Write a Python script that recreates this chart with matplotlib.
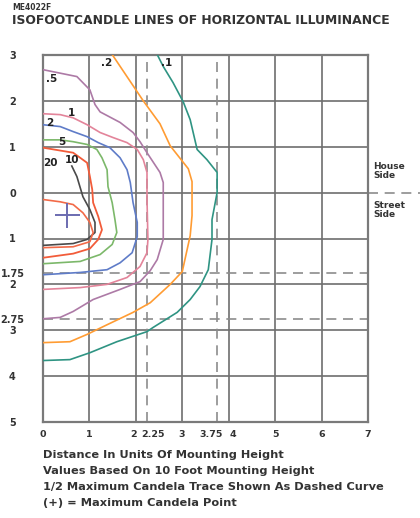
import matplotlib.pyplot as plt
import matplotlib.transforms as mtransforms

"""
Isofootcandle chart - values read off the reference picture
x = distance along the street, y = distance across (house side +, street side -)
units: mounting heights
"""
fc_01_x = [2.46, 2.59, 2.80, 3.02, 3.17, 3.32, 3.53, 3.75, 3.75, 3.64, 3.64, 3.56, 3.38, 3.17, 2.89, 2.37, 2.24, 1.59, 1.01, 0.58, 0.0]
fc_01_y = [3.01, 2.75, 2.40, 1.98, 1.59, 0.94, 0.72, 0.44, 0.0, -0.59, -1.02, -1.68, -2.05, -2.33, -2.61, -2.94, -3.03, -3.25, -3.49, -3.64, -3.66]

fc_02_x = [1.49, 2.16, 2.52, 2.74, 3.13, 3.21, 3.21, 3.17, 3.00, 2.74, 2.31, 1.94, 1.38, 0.95, 0.58, 0.0]
fc_02_y = [3.01, 2.00, 1.50, 1.02, 0.52, 0.24, -0.50, -0.94, -1.72, -2.00, -2.40, -2.61, -2.88, -3.09, -3.25, -3.27]

fc_05_x = [0.0, 0.73, 1.01, 1.12, 1.23, 1.66, 1.94, 2.09, 2.24, 2.52, 2.59, 2.59, 2.46, 2.31, 2.09, 1.66, 1.08, 0.65, 0.37, 0.0]
fc_05_y = [2.68, 2.53, 2.24, 1.92, 1.76, 1.53, 1.31, 1.11, 0.87, 0.44, 0.22, -1.02, -1.46, -1.70, -1.94, -2.11, -2.33, -2.59, -2.72, -2.75]

fc_1_x = [0.0, 0.37, 0.65, 0.95, 1.23, 1.51, 1.81, 2.03, 2.16, 2.24, 2.24, 2.26, 2.24, 2.09, 1.81, 1.38, 0.80, 0.0]
fc_1_y = [1.72, 1.70, 1.63, 1.48, 1.31, 1.20, 1.09, 0.94, 0.72, 0.44, -0.15, -1.02, -1.31, -1.61, -1.85, -2.00, -2.07, -2.11]

fc_2_x = [0.0, 0.37, 0.65, 0.95, 1.19, 1.44, 1.66, 1.81, 1.88, 1.94, 2.03, 2.03, 1.92, 1.66, 1.38, 0.80, 0.0]
fc_2_y = [1.48, 1.44, 1.33, 1.22, 1.09, 0.98, 0.76, 0.50, 0.22, -0.22, -0.65, -0.96, -1.31, -1.53, -1.68, -1.74, -1.79]

fc_5_x = [0.0, 0.37, 0.65, 0.95, 1.16, 1.27, 1.38, 1.40, 1.49, 1.55, 1.59, 1.49, 1.23, 0.80, 0.0]
fc_5_y = [1.15, 1.15, 1.11, 1.05, 0.94, 0.76, 0.50, 0.13, -0.22, -0.59, -0.87, -1.13, -1.35, -1.50, -1.55]

fc_10_x = [0.0, 0.65, 0.95, 1.01, 1.06, 1.08, 1.19, 1.27, 1.19, 1.01, 0.65, 0.0]
fc_10_y = [0.98, 0.87, 0.65, 0.35, 0.07, -0.22, -0.52, -0.81, -1.02, -1.22, -1.33, -1.42]

fc_20_x = [0.62, 0.73, 0.86, 1.01, 1.12, 1.12, 0.95, 0.65, 0.0]
fc_20_y = [0.58, 0.35, -0.09, -0.37, -0.65, -0.87, -1.02, -1.11, -1.15]

# innermost trace round the max candela point (no label on the picture)
fc_max_x = [0.0, 0.37, 0.65, 0.86, 1.01, 1.08, 1.01, 0.65, 0.0]
fc_max_y = [-0.15, -0.20, -0.26, -0.44, -0.65, -0.87, -1.07, -1.18, -1.20]

max_point = (0.52, -0.48)

curve_labels = ['.1', '.2', '.5', '1', '2', '5', '10', '20']
label_x = [2.67, 1.38, 0.19, 0.62, 0.15, 0.41, 0.62, 0.15]
label_y = [2.83, 2.83, 2.48, 1.74, 1.52, 1.11, 0.72, 0.65]

x_ticks = [0, 1, 2, 2.25, 3, 3.75, 4, 5, 6, 7]
x_tick_labels = ['0', '1', '2', '2.25', '3', '3.75', '4', '5', '6', '7']
y_ticks = [3, 2, 1, 0, -1, -1.75, -2, -2.75, -3, -4, -5]
y_tick_labels = ['3', '2', '1', '0', '1', '1.75', '2', '2.75', '3', '4', '5']

notes = ['Distance In Units Of Mounting Height',
         'Values Based On 10 Foot Mounting Height',
         '1/2 Maximum Candela Trace Shown As Dashed Curve',
         '(+) = Maximum Candela Point']

fig = plt.figure(figsize=(4.2, 5.18), dpi=100)
ax = fig.add_axes([43/420, 1-422/518, 325/420, 367/518])
ax.set_xlim(0, 7)
ax.set_ylim(-5, 3)

grid_col = '#6e6e6e'
dash_col = '#8c8c8c'
for gx in range(1, 7):
    ax.axvline(gx, color=grid_col, lw=1.2, zorder=1)
for gy in range(-4, 3):
    ax.axhline(gy, color=grid_col, lw=1.2, zorder=1)
for gx in [2.25, 3.75]:
    ax.axvline(gx, color=dash_col, lw=1.2, ls=(0, (6, 4)), zorder=1)
for gy in [-1.75, -2.75]:
    ax.axhline(gy, color=dash_col, lw=1.2, ls=(0, (6, 4)), zorder=1)
# centre line carried on past the frame to the house/street side notes
ax.plot([7, 8.2], [0, 0], color=dash_col, lw=1.2, ls=(0, (6, 4)), clip_on=False)

ax.plot(fc_01_x, fc_01_y, color='#2f9483', lw=1.2, zorder=3)
ax.plot(fc_02_x, fc_02_y, color='#ff9c33', lw=1.2, zorder=3)
ax.plot(fc_05_x, fc_05_y, color='#ad7aa6', lw=1.2, zorder=3)
ax.plot(fc_1_x, fc_1_y, color='#e3849a', lw=1.2, zorder=3)
ax.plot(fc_2_x, fc_2_y, color='#5f7cc8', lw=1.2, zorder=3)
ax.plot(fc_5_x, fc_5_y, color='#7cb86a', lw=1.2, zorder=3)
ax.plot(fc_10_x, fc_10_y, color='#f25c3a', lw=1.3, zorder=3)
ax.plot(fc_20_x, fc_20_y, color='#4a4a4a', lw=1.2, zorder=3)
ax.plot(fc_max_x, fc_max_y, color='#f26a48', lw=1.2, zorder=3)
ax.plot([max_point[0]], [max_point[1]], marker='+', color='#6b6bb0', ms=18, mew=1.4, zorder=4)

for t, lx, ly in zip(curve_labels, label_x, label_y):
    ax.text(lx, ly, t, fontsize=7.5, fontweight='bold', ha='center', va='center',
            color='#222222', zorder=5)

for s in ax.spines.values():
    s.set_color('#7a7a7a')
    s.set_linewidth(1.6)

ax.set_xticks(x_ticks, x_tick_labels)
ax.set_yticks(y_ticks, y_tick_labels)
ax.tick_params(length=0, labelsize=7, labelcolor='#333333')
ax.tick_params(axis='x', pad=6, labelsize=6.8)
ax.tick_params(axis='y', pad=22)
for lab in ax.get_yticklabels():
    lab.set_horizontalalignment('center')
    lab.set_fontweight('bold')
# nudge the crowded 2.25 / 3.75 labels apart from their neighbours
x_shift = {'2': -2, '2.25': 6, '3': -1, '3.75': -6, '4': 4}
for lab in ax.get_xticklabels():
    lab.set_fontweight('bold')
    dx = x_shift.get(lab.get_text(), 0)
    if dx:
        lab.set_transform(lab.get_transform() + mtransforms.ScaledTranslation(dx/100, 0, fig.dpi_scale_trans))

fig.text(12/420, 1-8/518, 'ME4022F', fontsize=5.5, fontweight='bold', va='center', color='#333333')
fig.text(12/420, 1-21/518, 'ISOFOOTCANDLE LINES OF HORIZONTAL ILLUMINANCE', fontsize=8.9,
         fontweight='bold', va='center', color='#333333')

fig.text(373/420, 1-171/518, 'House\nSide', fontsize=6.5, fontweight='bold', va='center',
         color='#333333', linespacing=0.9)
fig.text(373/420, 1-210/518, 'Street\nSide', fontsize=6.5, fontweight='bold', va='center',
         color='#333333', linespacing=0.9)

for i, n in enumerate(notes):
    fig.text(43/420, 1-(455+16*i)/518, n, fontsize=8.2, fontweight='bold', va='center', color='#333333')

fig.savefig('out.png', dpi=100)
